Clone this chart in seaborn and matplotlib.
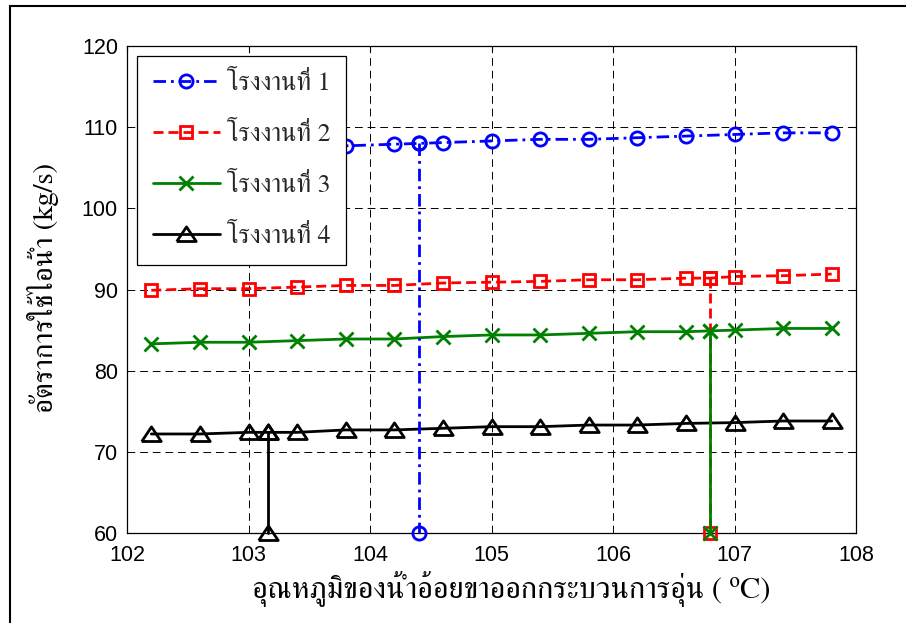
import matplotlib
matplotlib.use("Agg")
import matplotlib.pyplot as plt
from matplotlib.patches import Rectangle
import seaborn as sns
import pandas as pd

# ---------------- data ----------------
x_temp = [102.2, 102.6, 103.0, 103.4, 103.8, 104.2, 104.6, 105.0,
          105.4, 105.8, 106.2, 106.6, 107.0, 107.4, 107.8]
plant1 = [107.0, 107.2, 107.3, 107.5, 107.7, 107.9, 108.1, 108.3,
          108.5, 108.5, 108.7, 108.9, 109.1, 109.3, 109.3]
plant2 = [89.9, 90.1, 90.1, 90.3, 90.5, 90.5, 90.8, 90.9,
          91.0, 91.2, 91.2, 91.4, 91.6, 91.7, 91.9]
plant3 = [83.3, 83.5, 83.5, 83.7, 83.9, 83.9, 84.2, 84.4,
          84.4, 84.6, 84.8, 84.8, 85.0, 85.2, 85.2]
plant4 = [72.2, 72.2, 72.4, 72.4, 72.7, 72.7, 72.9, 73.1,
          73.1, 73.3, 73.3, 73.5, 73.6, 73.8, 73.8]
# selected operating points (drop lines to the axis floor)
key_x = [104.4, 106.8, 106.8, 103.16]
key_y = [108.0, 91.4, 84.9, 72.4]
y_floor = 60
labels = ["โรงงานที่ 1", "โรงงานที่ 2", "โรงงานที่ 3", "โรงงานที่ 4"]
x_ticks = [102, 103, 104, 105, 106, 107, 108]
y_ticks = [60, 70, 80, 90, 100, 110, 120]
xlabel = "อุณหภูมิของน้ำอ้อยขาออกกระบวนการอุ่น ( ᵒC)"
ylabel = "อัตราการใช้ไอน้ำ (kg/s)"

thai_family = ["FreeSerif", "Sarabun", "DejaVu Serif", "DejaVu Sans"]

sns.set_theme(style="white")
plt.rcParams["font.family"] = ["Liberation Sans", "DejaVu Sans"]
plt.rcParams["axes.unicode_minus"] = False

fig = plt.figure(figsize=(9.06, 6.23), dpi=100)
ax = fig.add_axes([127 / 906, 1 - 533 / 623, 729 / 906, 487 / 623])

styles = [
    dict(color=(0, 0, 1), marker="o", linestyle=(0, (4.5, 1.8, 1.0, 1.8)), markersize=9.5),
    dict(color=(1, 0, 0), marker="s", linestyle=(0, (3.6, 1.8)), markersize=9.0),
    dict(color=(0, 0.5, 0), marker="x", linestyle="-", markersize=9.5),
    dict(color=(0, 0, 0), marker=[(-1, -0.72), (1, -0.72), (0, 0.78), (-1, -0.72)],
         linestyle="-", markersize=14),
]
series = [plant1, plant2, plant3, plant4]

handles = []
for i, (ys, st) in enumerate(zip(series, styles)):
    df = pd.DataFrame({"x": x_temp + [key_x[i]], "y": ys + [key_y[i]]}).sort_values("x")
    common = dict(color=st["color"], marker=st["marker"], linestyle=st["linestyle"],
                  markersize=st["markersize"], markerfacecolor="none",
                  markeredgecolor=st["color"], markeredgewidth=2.0, linewidth=2.0)
    n0 = len(ax.lines)
    sns.lineplot(data=df, x="x", y="y", ax=ax, estimator=None, sort=True,
                 label=labels[i], legend=False, **common)
    handles.append(ax.lines[n0])
    dd = pd.DataFrame({"x": [key_x[i], key_x[i]], "y": [key_y[i], y_floor]})
    n1 = len(ax.lines)
    sns.lineplot(data=dd, x="x", y="y", ax=ax, estimator=None, sort=False,
                 legend=False, **common)
    for ln in ax.lines[n1:]:
        ln.set_clip_on(False)
        ln.set_zorder(3)

ax.set_xlim(102, 108)
ax.set_ylim(60, 120)
ax.set_xticks(x_ticks)
ax.set_yticks(y_ticks)
ax.set_xticklabels([str(t) for t in x_ticks])
ax.set_yticklabels([str(t) for t in y_ticks])
ax.grid(True, color="black", linestyle=(0, (8, 5)), linewidth=0.7)
ax.set_axisbelow(True)
for s in ax.spines.values():
    s.set_visible(True)
    s.set_color("black")
    s.set_linewidth(0.9)
ax.tick_params(axis="both", which="both", direction="in", length=4, width=0.8,
               top=True, right=True, labelsize=15.5, colors="black", pad=8.5)
ax.tick_params(axis="y", pad=6.5)

ax.set_xlabel(xlabel, family=thai_family, fontsize=22, color="black", va="center")
ax.xaxis.set_label_coords((511 - 127) / 729, (533 - 589) / 487)
ax.set_ylabel(ylabel, family=thai_family, fontsize=21, color="black", va="center")
ax.yaxis.set_label_coords((43 - 127) / 729, (533 - 288) / 487)

leg = ax.legend(handles=handles, labels=labels, loc="upper left",
                bbox_to_anchor=((137 - 127) / 729, (533 - 56) / 487),
                borderaxespad=0, fancybox=False, framealpha=1, edgecolor="black",
                prop=dict(family=thai_family, size=18.5), handlelength=2.6,
                labelspacing=1.05, borderpad=0.62, handletextpad=0.28, numpoints=1)
leg.get_frame().set_linewidth(0.9)

fig.add_artist(Rectangle((9.5 / 906, -0.1), 1.2, (623 - 5.5) / 623 + 0.1,
                         transform=fig.transFigure, fill=False,
                         edgecolor="black", linewidth=1.5))

fig.savefig("out.png", dpi=100, facecolor="white")
